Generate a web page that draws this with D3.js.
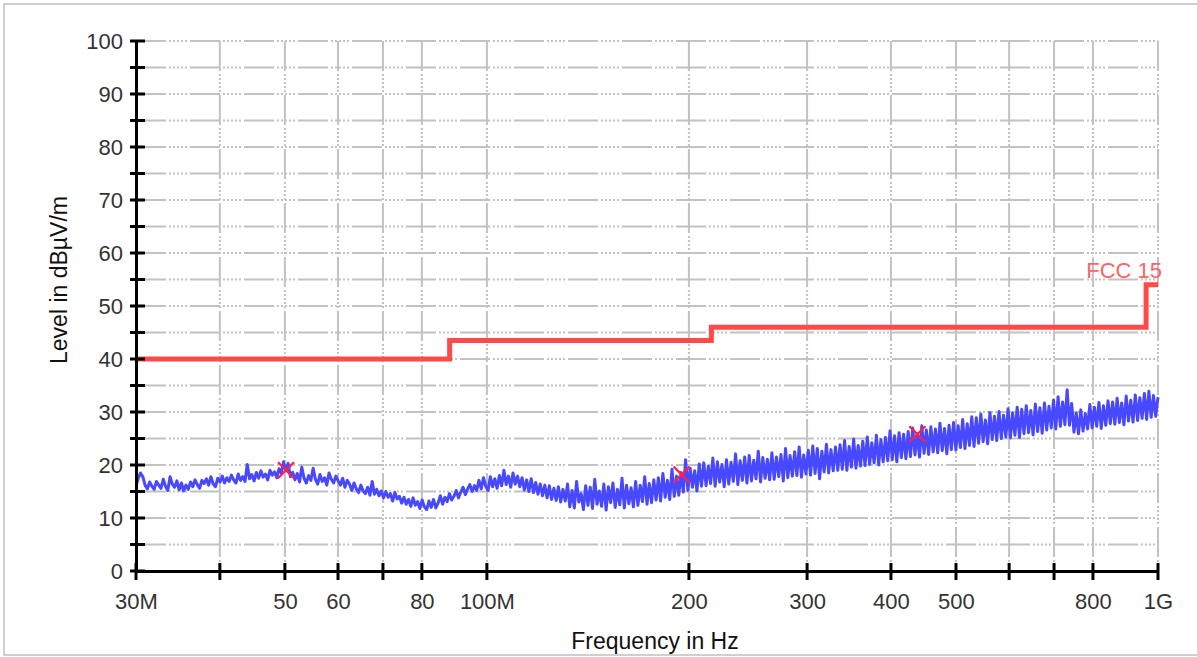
<html>
<script src="https://d3js.org/d3.v7.min.js"></script>
<body style="margin:0;background:#fff" onload="init()">
<svg id="chart" width="1197" height="657"></svg>
<script>
	// y axis ticks
	var levelTicks = [0, 10, 20, 30, 40, 50, 60, 70, 80, 90, 100];
	var levelMinor = [5, 15, 25, 35, 45, 55, 65, 75, 85, 95];

	// x axis (MHz)
	var freqTicks = [30, 40, 50, 60, 70, 80, 100, 200, 300, 400, 500, 600, 700, 800, 1000];
	var freqLabels = {30: "30M", 50: "50", 60: "60", 80: "80", 100: "100M", 200: "200", 300: "300", 400: "400", 500: "500", 800: "800", 1000: "1G"};

	// FCC 15 limit (MHz, dBuV/m)
	var limitFreq = [30, 88, 88, 216, 216, 960, 960, 1000];
	var limitLevel = [40, 40, 43.5, 43.5, 46, 46, 54, 54];

	// peak markers
	var peakFreq = [50.2, 195, 438];
	var peakLevel = [19, 18.2, 25.8];

	var sweepStart = 30, sweepStop = 1000;
	var sweepLevel = [
		16, 17.5, 18.5, 17.8, 16.2, 15.5, 16.8, 16, 15.4, 16.9,
		16.2, 15.6, 17.3, 16, 15.2, 17.8, 16.4, 15.8, 17, 15.3,
		16.6, 15.1, 16.2, 15.4, 16.8, 15.9, 17.2, 16.3, 15.6, 17.1,
		16.5, 17.4, 16.2, 17.8, 16.4, 15.9, 17.5, 16.8, 17.9, 16.6,
		17.6, 16.9, 18.1, 17.2, 16.6, 18.3, 17.1, 17.8, 16.9, 20.1,
		17.4, 18.2, 17, 18.6, 17.5, 18.9, 17.7, 18.3, 17.2, 19,
		18.1, 18.7, 17.6, 19.3, 18.4, 20.6, 18.9, 20.3, 17.8, 18.6,
		17.2, 18.4, 16.8, 19.6, 17.5, 16.6, 18, 17.1, 19.4, 17.3,
		16.4, 18.2, 16.9, 17.6, 16.2, 18.5, 17.3, 16.6, 17.9, 17,
		16.2, 17.5, 15.8, 17.1, 16.4, 15.2, 16.6, 15.5, 14.8, 16.2,
		15.1, 14.6, 15.8, 14.3, 16.9, 14.5, 15.4, 14.2, 15.1, 13.8,
		15, 13.9, 14.6, 13.2, 14.8, 13.6, 14.1, 12.8, 13.9, 12.6,
		13.5, 12.2, 13.8, 12.4, 13.1, 11.8, 13.4, 12.1, 11.6, 13.2,
		12, 13.5, 11.9, 12.8, 14.2, 12.6, 13.9, 13.1, 14.6, 13.4,
		14.1, 15.2, 13.8, 14.9, 15.8, 14.4, 15.5, 16.3, 15, 16.1,
		15.2, 17.1, 15.5, 17.6, 16, 15.2, 17.8, 15.9, 17.4, 15.6,
		18, 16.1, 19, 16.3, 17.9, 15.8, 18.5, 16.4, 17.9, 15.9,
		17.6, 15.3, 17.2, 15, 17.4, 14.8, 16.7, 14.5, 16.4, 14.2,
		16.2, 13.8, 16.1, 13.5, 15.6, 13.3, 15.9, 13, 15.4, 13.2,
		16.4, 12.1, 15.2, 11.9, 16.9, 13.0, 14.6, 11.6, 16.1, 12.4,
		15.8, 11.8, 17.3, 12.6, 15.1, 12.2, 16.4, 11.5, 15.9, 12.9,
		16.6, 12.0, 15.4, 12.5, 17.5, 11.9, 16.2, 12.7, 15.7, 12.1,
		16.9, 12.4, 16.2, 13.1, 17.8, 12.6, 16.5, 12.9, 17.2, 13.4,
		17.6, 13.2, 18.4, 13.9, 17.1, 13.5, 19.2, 14.1, 17.9, 14.3,
		18.6, 14.9, 21.0, 15.2, 19.4, 15.8, 18.9, 15.1, 20.2, 16.0,
		20.4, 16.1, 19.8, 16.5, 21.3, 16.0, 20.6, 16.8, 20.1, 15.9,
		21.0, 16.4, 20.5, 16.9, 22.1, 16.3, 20.8, 17.1, 21.5, 16.6,
		21.8, 17.0, 20.9, 17.4, 22.6, 16.8, 21.4, 17.5, 21.1, 17.2,
		22.3, 17.3, 21.5, 17.8, 22.0, 17.0, 23.1, 17.6, 21.8, 17.9,
		22.5, 18.0, 23.4, 17.7, 21.9, 18.3, 22.8, 18.1, 23.6, 18.4,
		23.1, 17.4, 22.6, 18.7, 23.9, 18.5, 22.9, 18.9, 23.4, 19.0,
		23.8, 19.2, 24.6, 19.0, 23.5, 19.6, 24.9, 19.4, 23.7, 19.8,
		24.5, 19.9, 25.3, 20.1, 24.2, 20.4, 25.6, 20.0, 24.8, 20.6,
		25.2, 20.8, 26.4, 21.0, 25.5, 20.6, 26.1, 21.4, 25.8, 21.2,
		26.3, 21.6, 27.0, 21.9, 25.9, 21.5, 27.4, 22.2, 26.6, 22.0,
		27.2, 22.5, 26.8, 22.3, 27.9, 22.7, 26.9, 22.1, 27.5, 22.9,
		28.0, 22.8, 27.4, 23.3, 28.6, 23.1, 27.8, 23.7, 29.1, 23.5,
		28.9, 24.1, 29.6, 24.4, 28.5, 24.0, 29.9, 24.8, 29.2, 24.6,
		30.1, 25.0, 29.4, 25.3, 30.6, 25.1, 29.8, 25.6, 30.9, 25.2,
		30.5, 25.9, 31.2, 26.1, 30.3, 25.7, 31.5, 26.3, 30.8, 26.0,
		31.7, 26.6, 31.1, 27.0, 32.2, 26.8, 32.9, 27.3, 31.9, 27.6,
		34.2, 27.5, 31.6, 26.2, 29.8, 25.9, 30.4, 26.4, 29.7, 26.8,
		31.4, 27.0, 30.9, 27.3, 31.8, 26.9, 31.2, 27.5, 32.1, 27.8,
		31.9, 27.7, 32.6, 28.0, 31.7, 27.6, 33.0, 28.3, 32.2, 28.1,
		33.2, 28.4, 32.7, 28.8, 33.5, 28.6, 33.9, 29.0, 33.1, 29.2, 32.8
	];

	var gridColor = "#c2c2c2";
	var gridDash = "30,3,2,2,2,2,2,2,2,2,2,3";
	var font = "'Liberation Sans', Arial, sans-serif";

	function init(){
		var svg = d3.select("#chart");
		var x = d3.scaleLog().domain([30, 1000]).range([136, 1158]);
		var y = d3.scaleLinear().domain([0, 100]).range([571, 41]);

		// outer frame
		svg.append("rect").attr("x", 4).attr("y", 4).attr("width", 1200).attr("height", 651)
			.style("fill", "none").style("stroke", "#cfcfcf").style("stroke-width", 2);

		// horizontal grid
		svg.append("g").selectAll("line").data(levelTicks.concat(levelMinor).filter(function(d){return d > 0;})).enter()
			.append("line")
			.attr("x1", x(30)).attr("x2", x(1000))
			.attr("y1", function(d){return y(d);}).attr("y2", function(d){return y(d);})
			.style("stroke", gridColor).style("stroke-width", 2).style("stroke-dasharray", gridDash);

		// vertical grid
		svg.append("g").selectAll("line").data(freqTicks.filter(function(d){return d > 30;})).enter()
			.append("line")
			.attr("x1", function(d){return x(d);}).attr("x2", function(d){return x(d);})
			.attr("y1", y(100)).attr("y2", y(0))
			.style("stroke", gridColor).style("stroke-width", 2).style("stroke-dasharray", gridDash);

		// limit line
		var limit = limitFreq.map(function(f, i){return [f, limitLevel[i]];});
		svg.append("path").datum(limit)
			.attr("d", d3.line().x(function(d){return x(d[0]);}).y(function(d){return y(d[1]);}))
			.style("fill", "none").style("stroke", "#ff4a4a").style("stroke-width", 5);
		svg.append("text").attr("x", x(1000) + 4).attr("y", y(54) - 7)
			.attr("text-anchor", "end").style("font-family", font).style("font-size", "22px")
			.style("fill", "#ff6464").text("FCC 15");

		// measured trace
		var n = sweepLevel.length;
		var sweep = sweepLevel.map(function(v, i){
			return [sweepStart * Math.pow(sweepStop / sweepStart, i / (n - 1)), v];
		});
		svg.append("path").datum(sweep)
			.attr("d", d3.line().x(function(d){return x(d[0]);}).y(function(d){return y(d[1]);}))
			.style("fill", "none").style("stroke", "#4848ff").style("stroke-width", 3)
			.style("stroke-linejoin", "round");

		// peak markers
		var peaks = svg.append("g").selectAll("g").data(peakFreq).enter().append("g")
			.attr("transform", function(d, i){return "translate(" + x(d) + "," + y(peakLevel[i]) + ")";});
		peaks.append("path").attr("d", "M-8,-8L8,8M-8,8L8,-8")
			.style("stroke", "#ff1f4b").style("stroke-width", 2.3);

		// axes
		var yAxis = d3.axisLeft(y).tickValues(levelTicks).tickSize(0).tickPadding(13);
		var gy = svg.append("g").attr("transform", "translate(136,0)").call(yAxis);
		var xAxis = d3.axisBottom(x).tickValues(freqTicks).tickSize(0).tickPadding(22)
			.tickFormat(function(d){return freqLabels[d] || "";});
		var gx = svg.append("g").attr("transform", "translate(0,571)").call(xAxis);

		[gx, gy].forEach(function(g){
			g.select(".domain").style("stroke", "#000").style("stroke-width", 3);
			g.selectAll("text").style("font-family", font).style("font-size", "22px").style("fill", "#333");
		});

		// tick marks crossing the axes
		svg.append("g").selectAll("line").data(levelTicks.concat(levelMinor)).enter().append("line")
			.attr("x1", 130).attr("x2", 145)
			.attr("y1", function(d){return y(d);}).attr("y2", function(d){return y(d);})
			.style("stroke", "#000").style("stroke-width", 3);
		svg.append("g").selectAll("line").data(freqTicks).enter().append("line")
			.attr("x1", function(d){return x(d);}).attr("x2", function(d){return x(d);})
			.attr("y1", 563).attr("y2", 580)
			.style("stroke", "#000").style("stroke-width", 3);

		// axis titles
		svg.append("text").attr("transform", "translate(67,280) rotate(-90)")
			.attr("text-anchor", "middle").style("font-family", font).style("font-size", "23px")
			.style("fill", "#111").text("Level in dBµV/m");
		svg.append("text").attr("x", 655).attr("y", 649)
			.attr("text-anchor", "middle").style("font-family", font).style("font-size", "23px")
			.style("fill", "#111").text("Frequency in Hz");
	}
</script>
</body>
</html>
